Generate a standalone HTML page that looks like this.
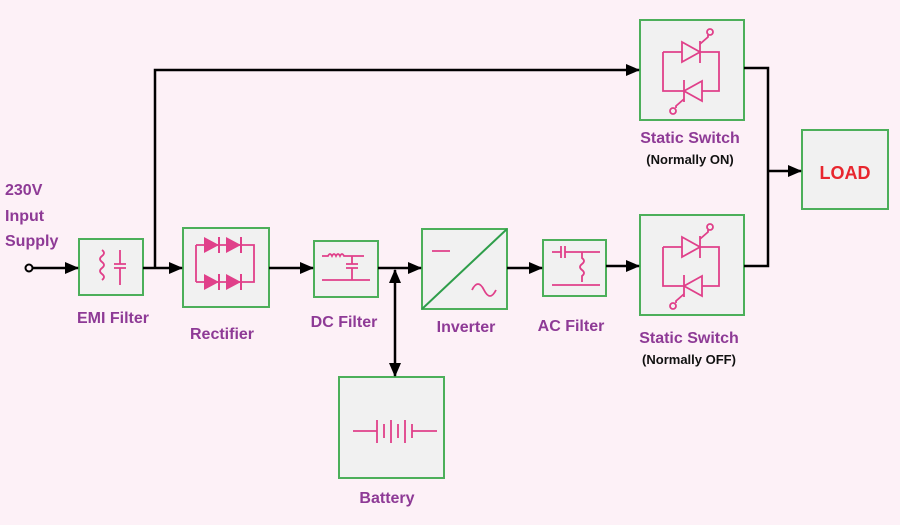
<!DOCTYPE html>
<html><head><meta charset="utf-8"><style>
body{margin:0;background:#fdf1f7;}
svg{display:block}
text{font-family:"Liberation Sans",sans-serif;font-weight:bold;fill:#8e3a96;font-size:16px}
</style></head><body>
<svg width="900" height="525" viewBox="0 0 900 525">
<defs>
<marker id="a" markerWidth="14" markerHeight="14" refX="13" refY="7" orient="auto" markerUnits="userSpaceOnUse"><path d="M0,1 L14,7 L0,13 z" fill="#000"/></marker>
<marker id="a2" markerWidth="14" markerHeight="12" refX="13" refY="6" orient="auto-start-reverse" markerUnits="userSpaceOnUse"><path d="M0,0 L14,6 L0,12 z" fill="#000"/></marker>
<g id="thy" stroke="#e0408a" stroke-width="1.8" fill="none">
<path d="M23,32 H42 M60,32 H79 V71 H62 M44,71 H23 V32"/>
<path d="M42,22 L60,32 L42,42 z"/><path d="M60,21 V43"/>
<path d="M62,61 L44,71 L62,81 z"/><path d="M44,60 V82"/>
<path d="M60,24 L68,17 V15"/><circle cx="70" cy="12" r="3"/>
<path d="M44,79 L36,86 V88"/><circle cx="33" cy="91" r="3"/>
</g>
</defs>
<g fill="#f1f1f1" stroke="#4caf5a" stroke-width="2">
<rect x="79" y="239" width="64" height="56"/>
<rect x="183" y="228" width="86" height="79"/>
<rect x="314" y="241" width="64" height="56"/>
<rect x="422" y="229" width="85" height="80"/>
<rect x="543" y="240" width="63" height="56"/>
<rect x="640" y="20" width="104" height="100"/>
<rect x="640" y="215" width="104" height="100"/>
<rect x="802" y="130" width="86" height="79"/>
<rect x="339" y="377" width="105" height="101"/>
</g>
<path d="M422,309 L507,229" stroke="#2e9e4a" stroke-width="2"/>
<g stroke="#000" stroke-width="2.5" fill="none">
<circle cx="29" cy="268" r="3.5" stroke-width="2"/>
<path d="M33,268 H78" marker-end="url(#a)"/>
<path d="M143,268 H182" marker-end="url(#a)"/>
<path d="M155,268 V70 H639" marker-end="url(#a)"/>
<path d="M269,268 H313" marker-end="url(#a)"/>
<path d="M378,268 H421" marker-end="url(#a)"/>
<path d="M507,268 H542" marker-end="url(#a)"/>
<path d="M606,266 H639" marker-end="url(#a)"/>
<path d="M744,68 H768 V266 H744"/>
<path d="M768,171 H801" marker-end="url(#a)"/>
<path d="M395,270 V376" marker-start="url(#a2)" marker-end="url(#a2)"/>
</g>
<g stroke="#e0408a" stroke-width="1.8" fill="none">
<path d="M102,250 q4,3 0,6 q-4,3 0,6 q4,3 0,6 q-4,3 0,6 q4,3 0,6"/>
<path d="M120,250 V264 M114,264 H126 M114,268 H126 M120,268 V285"/>
<path d="M196,245 V282 M196,245 H254 V282 H196"/>
<path d="M322,256 h6 q2,-4 4,0 q2,-4 4,0 q2,-4 4,0 q2,-4 4,0 h20 M352,256 V264 M346,264 H358 M346,268 H358 M352,268 V280 M322,280 H370"/>
<path d="M432,251 H450 M472,290 q6,-12 12,0 q6,12 12,0"/>
<path d="M552,252 H561 M561,246 V258 M565,246 V258 M565,252 H600 M582,252 v6 q4,3 0,6 q-4,3 0,6 q4,3 0,6 v6 M552,285 H600"/>
<path d="M353,431 H377 M377,420 V443 M384,424 V438 M391,420 V443 M398,424 V438 M405,420 V443 M412,424 V438 M412,431 H437"/>
</g>
<g fill="#e0408a"><path d="M204,237 L219,245 L204,253 z M226,237 L241,245 L226,253 z M204,274 L219,282 L204,290 z M226,274 L241,282 L226,290 z"/></g>
<g stroke="#e0408a" stroke-width="2"><path d="M219,237 V253 M241,237 V253 M219,274 V290 M241,274 V290"/></g>
<use href="#thy" x="640" y="20"/>
<use href="#thy" x="640" y="215"/>
<text x="5" y="195">230V</text>
<text x="5" y="221">Input</text>
<text x="5" y="246">Supply</text>
<text x="113" y="323" text-anchor="middle">EMI Filter</text>
<text x="222" y="339" text-anchor="middle">Rectifier</text>
<text x="344" y="327" text-anchor="middle">DC Filter</text>
<text x="466" y="332" text-anchor="middle">Inverter</text>
<text x="571" y="331" text-anchor="middle">AC Filter</text>
<text x="690" y="143" text-anchor="middle">Static Switch</text>
<text x="690" y="164" text-anchor="middle" style="fill:#111;font-size:13px">(Normally ON)</text>
<text x="689" y="343" text-anchor="middle">Static Switch</text>
<text x="689" y="364" text-anchor="middle" style="fill:#111;font-size:13px">(Normally OFF)</text>
<text x="845" y="179" text-anchor="middle" style="fill:#e8262e;font-size:18px">LOAD</text>
<text x="387" y="503" text-anchor="middle">Battery</text>
</svg>
</body></html>
